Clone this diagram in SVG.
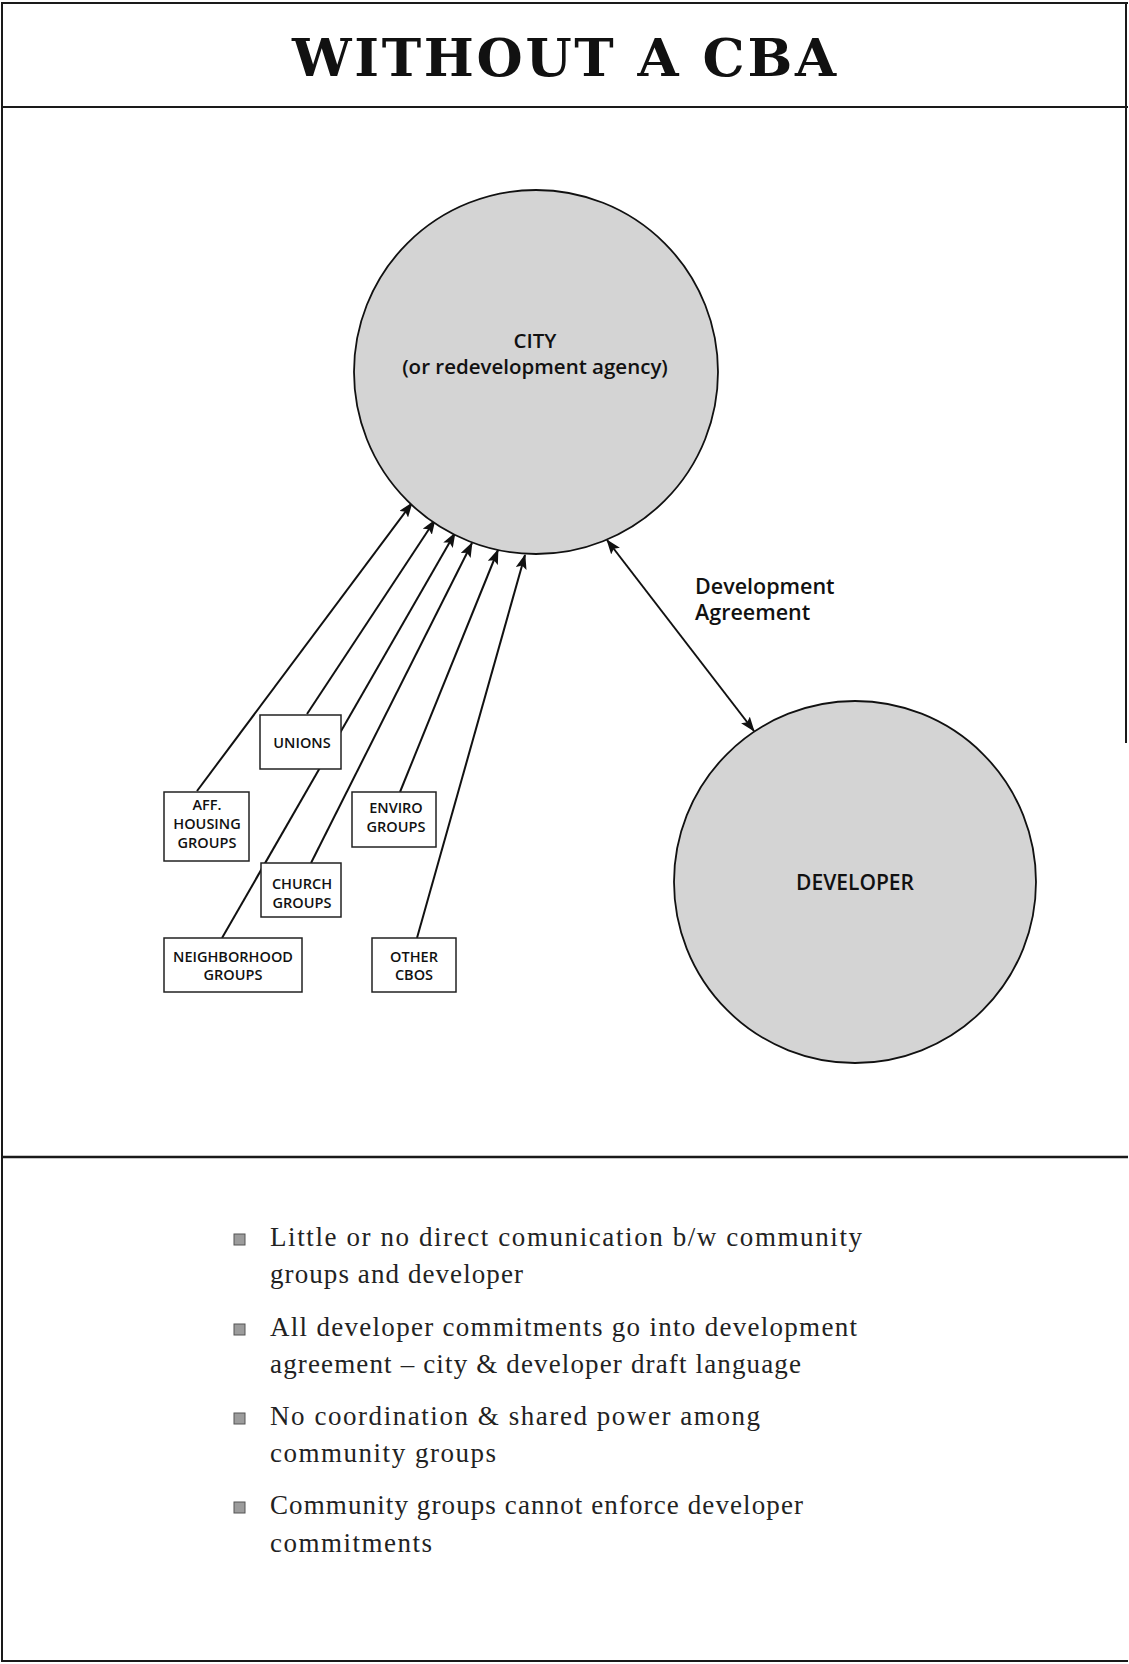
<svg xmlns="http://www.w3.org/2000/svg" width="1129" height="1664" viewBox="0 0 1129 1664">
<style>
.frame{stroke:#1a1a1a;stroke-width:2;fill:none}
.circle{fill:#d4d4d4;stroke:#111;stroke-width:1.8}
.box{fill:#fff;stroke:#222;stroke-width:1.5}
.conn{stroke:#111;stroke-width:2;fill:none}
.lbl{font-family:"Open Sans","Liberation Sans",sans-serif;font-weight:600;fill:#111;text-anchor:middle}
.small{font-size:14.5px}
.title{font-family:"DejaVu Serif","Liberation Serif",serif;font-weight:bold;font-size:53px;fill:#111;text-anchor:middle}
.bul{font-family:"Liberation Serif","DejaVu Serif",serif;font-size:27px;fill:#222}
.sq{fill:#9c9c9c;stroke:#555;stroke-width:1}
</style>
<defs>
<marker id="ah" markerUnits="userSpaceOnUse" markerWidth="15" markerHeight="11" refX="14" refY="5.5" orient="auto-start-reverse" viewBox="0 0 15 11">
<path d="M0,0 L15,5.5 L0,11 L3,5.5 Z" fill="#111"/>
</marker>
</defs>
<rect width="1129" height="1664" fill="#fff"/>
<g id="frame">
<line class="frame" x1="1" y1="3" x2="1128" y2="3"/>
<line class="frame" x1="2" y1="2" x2="2" y2="1662"/>
<line class="frame" x1="1126" y1="2" x2="1126" y2="743"/>
<line class="frame" x1="1" y1="107" x2="1128" y2="107"/>
<line class="frame" x1="1" y1="1157" x2="1128" y2="1157" style="stroke-width:2.5"/>
<line class="frame" x1="1" y1="1661" x2="1128" y2="1661"/>
</g>
<g id="title">
<text class="title" x="564" y="76" textLength="544" lengthAdjust="spacing">WITHOUT A CBA</text>
</g>
<g id="connectors">
<line class="conn" x1="197" y1="791" x2="412" y2="503" marker-end="url(#ah)"/>
<line class="conn" x1="307" y1="714" x2="435" y2="520" marker-end="url(#ah)"/>
<line class="conn" x1="222" y1="938" x2="455" y2="533" marker-end="url(#ah)"/>
<line class="conn" x1="311" y1="863" x2="472" y2="543" marker-end="url(#ah)"/>
<line class="conn" x1="400" y1="792" x2="498" y2="550" marker-end="url(#ah)"/>
<line class="conn" x1="417" y1="938" x2="525" y2="555" marker-end="url(#ah)"/>
<line class="conn" x1="607" y1="540" x2="754" y2="731" marker-start="url(#ah)" marker-end="url(#ah)"/>
<text class="lbl" x="695" y="594" style="text-anchor:start;font-size:21.5px">Development</text>
<text class="lbl" x="695" y="620" style="text-anchor:start;font-size:21.5px">Agreement</text>
</g>
<g id="city">
<circle class="circle" cx="536" cy="372" r="182"/>
<text class="lbl" x="535" y="348" style="font-size:20.5px">CITY</text>
<text class="lbl" x="535" y="374" style="font-size:20.5px">(or redevelopment agency)</text>
</g>
<g id="developer">
<circle class="circle" cx="855" cy="882" r="181"/>
<text class="lbl" x="855" y="890" style="font-size:21px">DEVELOPER</text>
</g>
<g id="unions">
<rect class="box" x="260" y="715" width="81" height="54"/>
<text class="lbl small" x="302" y="748">UNIONS</text>
</g>
<g id="aff-housing">
<rect class="box" x="164" y="792" width="85" height="69"/>
<text class="lbl small" x="207" y="810">AFF.</text>
<text class="lbl small" x="207" y="829">HOUSING</text>
<text class="lbl small" x="207" y="848">GROUPS</text>
</g>
<g id="enviro">
<rect class="box" x="352" y="792" width="84" height="55"/>
<text class="lbl small" x="396" y="813">ENVIRO</text>
<text class="lbl small" x="396" y="832">GROUPS</text>
</g>
<g id="church">
<rect class="box" x="261" y="863" width="80" height="54"/>
<text class="lbl small" x="302" y="889">CHURCH</text>
<text class="lbl small" x="302" y="908">GROUPS</text>
</g>
<g id="neighborhood">
<rect class="box" x="164" y="938" width="138" height="54"/>
<text class="lbl small" x="233" y="962">NEIGHBORHOOD</text>
<text class="lbl small" x="233" y="980">GROUPS</text>
</g>
<g id="other-cbos">
<rect class="box" x="372" y="938" width="84" height="54"/>
<text class="lbl small" x="414" y="962">OTHER</text>
<text class="lbl small" x="414" y="980">CBOS</text>
</g>
<g id="bullets">
<rect class="sq" x="234" y="1234" width="11" height="11"/>
<text class="bul" x="270" y="1246" textLength="592" lengthAdjust="spacing">Little or no direct comunication b/w community</text>
<text class="bul" x="270" y="1283" textLength="253" lengthAdjust="spacing">groups and developer</text>
<rect class="sq" x="234" y="1324" width="11" height="11"/>
<text class="bul" x="270" y="1336" textLength="587" lengthAdjust="spacing">All developer commitments go into development</text>
<text class="bul" x="270" y="1373" textLength="531" lengthAdjust="spacing">agreement – city &amp; developer draft language</text>
<rect class="sq" x="234" y="1413" width="11" height="11"/>
<text class="bul" x="270" y="1425" textLength="490" lengthAdjust="spacing">No coordination &amp; shared power among</text>
<text class="bul" x="270" y="1462" textLength="226" lengthAdjust="spacing">community groups</text>
<rect class="sq" x="234" y="1502" width="11" height="11"/>
<text class="bul" x="270" y="1514" textLength="533" lengthAdjust="spacing">Community groups cannot enforce developer</text>
<text class="bul" x="270" y="1552" textLength="162" lengthAdjust="spacing">commitments</text>
</g>
</svg>
